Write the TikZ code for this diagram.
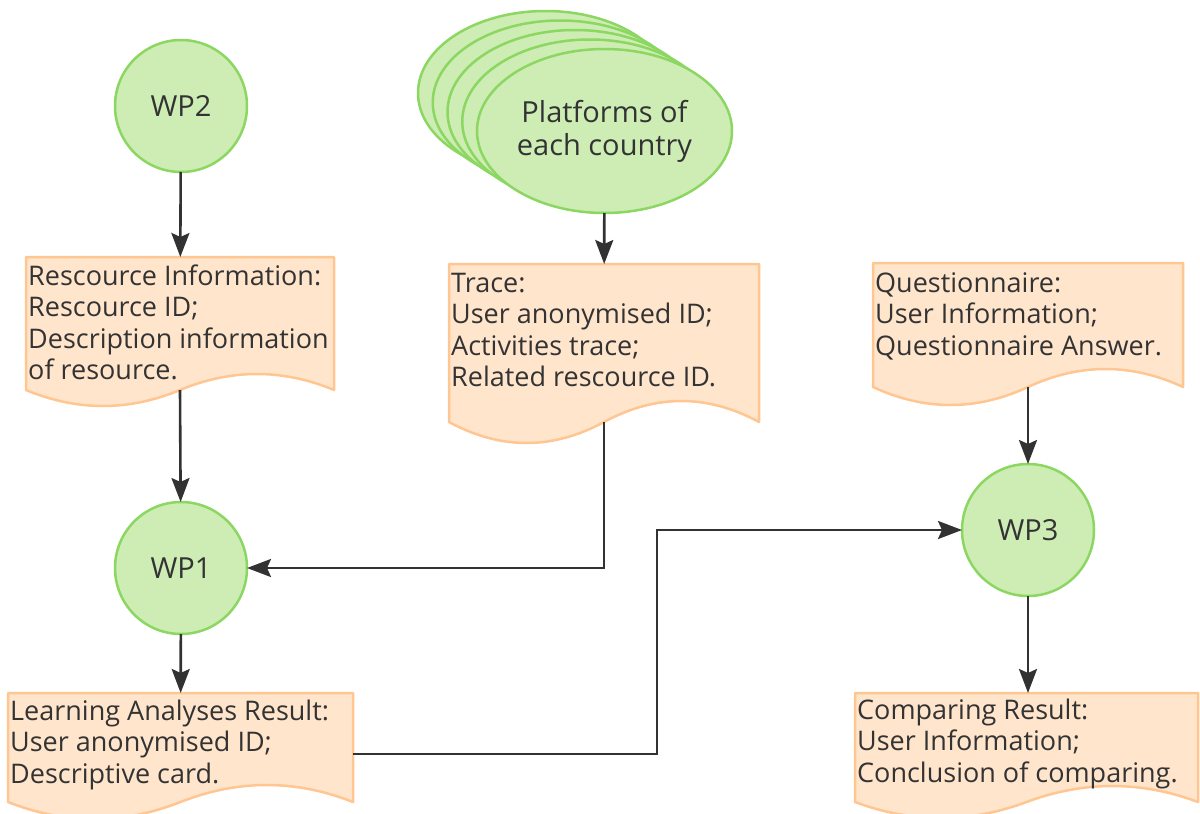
\documentclass[tikz,border=0pt]{standalone}
\usepackage{fontspec}
\setmainfont{Open Sans}
\usetikzlibrary{shapes.geometric,arrows.meta,calc}

\definecolor{gfill}{RGB}{205,237,181}
\definecolor{gline}{RGB}{140,214,98}
\definecolor{ofill}{RGB}{255,229,204}
\definecolor{oline}{RGB}{255,198,145}
\definecolor{ink}{RGB}{51,51,51}
\definecolor{wire}{RGB}{50,50,50}

\newcommand\bodyfont{\fontsize{27}{31.5}\selectfont}
\newcommand\bigfont{\fontsize{29}{33}\selectfont}
\newcommand\firstline{\rule{0pt}{21pt}}

\tikzset{
  wp/.style={circle, minimum size=132pt, inner sep=0pt, outer sep=0pt,
    fill=gfill, draw=gline, line width=2.5pt, text=ink, font=\bigfont},
  platform/.style={ellipse, minimum width=255pt, minimum height=164pt,
    inner sep=0pt, outer sep=0pt, fill=gfill, draw=gline, line width=2.5pt,
    text=ink, align=center, font=\bigfont},
  docframe/.style={draw=none, fill=none, inner sep=0pt, outer sep=0pt, rectangle},
  docpaper/.style={fill=ofill, draw=oline, line width=2.5pt, line join=round},
  doctext/.style={anchor=north west, inner sep=0pt, align=left, text=ink, font=\bodyfont},
  arr/.style={draw=wire, line width=2.6pt,
    -{Stealth[length=24pt, width=18pt, inset=4pt]}},
}

% document shape: name, left, top, right, side-bottom, wave amplitude
\newcommand\docshape[6]{%
  \path[docpaper] (#2,#3) -- (#4,#3) -- (#4,#5)
    .. controls ({#4-(#4-#2)/6},{#5-4*#6/3}) and ({(#2+#4)/2+(#4-#2)/6},{#5-4*#6/3})
    .. ({(#2+#4)/2},#5)
    .. controls ({(#2+#4)/2-(#4-#2)/6},{#5+4*#6/3}) and ({#2+(#4-#2)/6},{#5+4*#6/3})
    .. (#2,#5) -- cycle;
  \node[docframe, minimum width={(#4-#2)*1pt}, minimum height={(#5-#3)*1pt}]
    (#1) at ({(#2+#4)/2},{(#3+#5)/2}) {};
}

\begin{document}
\begin{tikzpicture}[x=1pt, y=-1pt]
\useasboundingbox (0,0) rectangle (1200,814);

% work packages
\node[wp] (wp2) at (181,106) {WP2};
\node[wp] (wp1) at (181,568) {WP1};
\node[wp] (wp3) at (1028,530) {WP3};

% stacked platforms, back to front
\node[platform] (plat4) at (545.5,93) {};
\node[platform] (plat3) at (560.25,102.5) {};
\node[platform] (plat2) at (575,112) {};
\node[platform] (plat1) at (589.75,121.5) {};
\node[platform] (plat) at (604.5,131) {Platforms of\\each country};

% documents
\docshape{res}{26}{257}{334}{390}{16}
\node[doctext] (rest) at (28,264) {\firstline Rescource Information:\\Rescource ID;\\Description information\\of resource.};

\docshape{trace}{449}{264}{759}{422}{21}
\node[doctext] (tracet) at (451,271) {\firstline Trace:\\User anonymised ID;\\Activities trace;\\Related rescource ID.};

\docshape{quest}{873}{263}{1183}{387}{18}
\node[doctext] (questt) at (875,271) {\firstline Questionnaire:\\User Information;\\Questionnaire Answer.};

\docshape{learn}{8}{693}{353}{802}{17}
\node[doctext] (learnt) at (10,699) {\firstline Learning Analyses Result:\\User anonymised ID;\\Descriptive card.};

\docshape{comp}{855}{693}{1198}{802}{16}
\node[doctext] (compt) at (857,698) {\firstline Comparing Result:\\User Information;\\Conclusion of comparing.};

% connectors
\coordinate (bend) at (657,530);
\draw[arr] (wp2) -- (res);
\draw[arr] (res.south) -- (wp1);
\draw[arr] (plat) -- (trace);
\draw[arr] (trace.south) |- (wp1.east);
\draw[arr] (quest) -- (wp3);
\draw[arr] (wp3.south) -- (wp3.south |- comp.north);
\draw[arr] (wp1) -- (learn);
\draw[arr] ([yshift=-6.5pt]learn.east) -| (bend) -- (wp3.west);
\end{tikzpicture}
\end{document}
